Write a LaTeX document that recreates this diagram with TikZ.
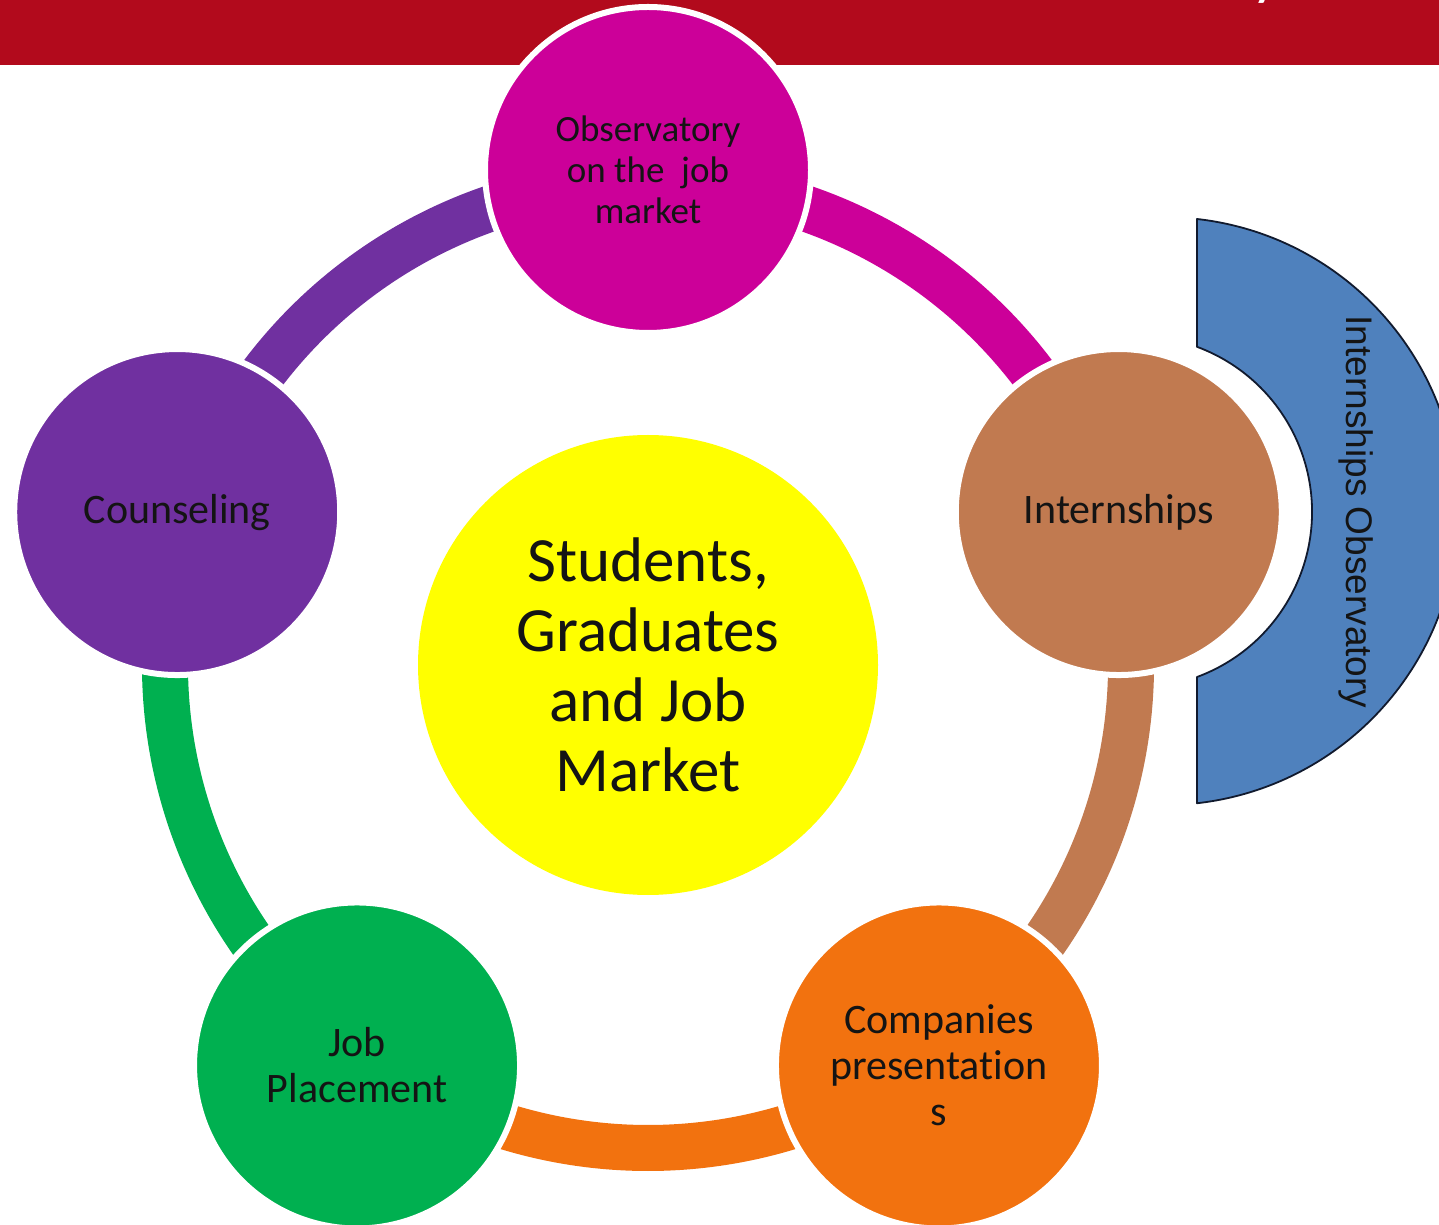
\documentclass[tikz,border=0pt]{standalone}
\usepackage{fontspec}
\setmainfont{Carlito}[Ligatures=NoCommon]
\newfontfamily\arialf{Liberation Sans}
\usetikzlibrary{calc}
\definecolor{barred}{HTML}{B20A1C}
\definecolor{magentaC}{HTML}{CC0099}
\definecolor{brownC}{HTML}{C17A50}
\definecolor{purpleC}{HTML}{7030A0}
\definecolor{greenC}{HTML}{00B050}
\definecolor{orangeC}{HTML}{F2720F}
\definecolor{blueC}{HTML}{4F81BD}
\definecolor{edgeC}{HTML}{111A2E}
\definecolor{txt}{HTML}{141414}
\definecolor{hubY}{HTML}{FFFF00}
\begin{document}
\begin{tikzpicture}[x=1pt,y=1pt,
  stage/.style={circle, draw=white, line width=6pt, minimum size=326pt, inner sep=0pt,
    align=center, text=txt, font=\fontsize{42}{46}\selectfont},
  ring/.style={line width=46pt}]
\useasboundingbox (0,0) rectangle (1439,1224);
\clip (0,0) rectangle (1439,1224);
% top bar
\fill[barred] (0,1159) rectangle (1439,1224);
\node[font=\fontsize{44}{44}\selectfont\bfseries, text=white, anchor=base, inner sep=0pt] (ttl) at (1265,1227) {y};
% hub
\node[circle, fill=hubY, minimum size=460pt, inner sep=0pt, align=center, text=txt,
  font=\fontsize{63}{70}\selectfont] (hub) at (648,559) {Students,\\Graduates\\and Job\\Market};
% ring arcs
\foreach \a/\c in {90/magentaC, 18/brownC, -54/orangeC, -126/greenC, 162/purpleC}
  \draw[ring, draw=\c] ([shift={(\a:483)}]hub.center) arc[start angle=\a, end angle=\a-72, radius=483];
% blue block arc
\draw[fill=blueC, draw=edgeC, line width=1.8pt, line join=round]
  (1197,1005) arc[start angle=83.55, end angle=-83.55, radius=294]
  -- (1197,547) arc[start angle=-69.72, end angle=69.72, radius=176] -- cycle;
\node[font=\arialf\fontsize{37}{37}\selectfont, text=txt, rotate=-90, anchor=base, inner sep=0pt]
  (iobs) at (1346,712) {Internships Observatory};
% stage circles
\node[stage, fill=magentaC, font=\fontsize{37}{41}\selectfont] (obs) at ($(hub.center)+(90:495)$) {Observatory\\on the~ job\\market};
\node[stage, fill=brownC] (intern) at ($(hub.center)+(18:495)$) {Internships};
\node[stage, fill=orangeC] (comp) at ($(hub.center)+(-54:495)$) {Companies\\presentation\\s};
\node[stage, fill=greenC] (job) at ($(hub.center)+(-126:495)$) {Job\\Placement};
\node[stage, fill=purpleC] (couns) at ($(hub.center)+(162:495)$) {Counseling};
\end{tikzpicture}
\end{document}
